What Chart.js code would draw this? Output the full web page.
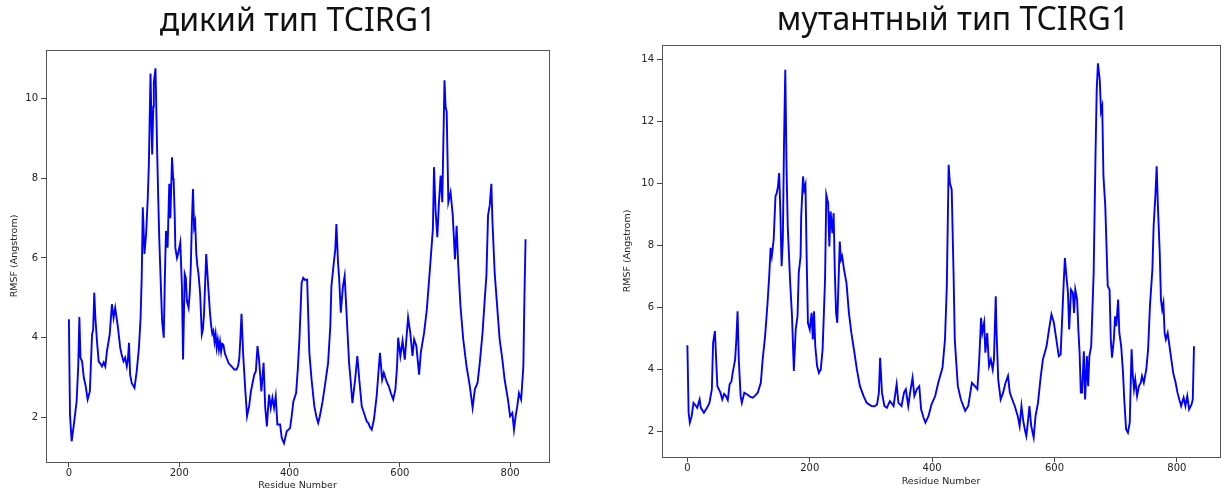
<!DOCTYPE html>
<html><head><meta charset="utf-8">
<script src="https://cdn.jsdelivr.net/npm/chart.js@4/dist/chart.umd.min.js"></script>
<style>
html,body{margin:0;padding:0;background:#fff;overflow:hidden;width:1224px;height:491px}
canvas{position:absolute;top:0}
#wt{left:0}
#mut{left:612px}
</style></head><body>
<canvas id="wt" width="596" height="491"></canvas>
<canvas id="mut" width="682" height="491"></canvas>
<script>
// ---- data ----
const wtTitle = 'дикий тип TCIRG1';
const mutTitle = 'мутантный тип TCIRG1';
const xAxisLabel = 'Residue Number';
const yAxisLabel = 'RMSF (Angstrom)';
const xTickValues = [0, 200, 400, 600, 800];
const wtYTickValues = [2, 4, 6, 8, 10];
const mutYTickValues = [2, 4, 6, 8, 10, 12, 14];

const wtResidue = [0,2,5,9,14,17,19,21,24,27,30,34,38,42,44,46,48,51,54,57,60,63,66,69,74,78,81,84,89,93,96,99,102,105,107,109,111,114,119,123,127,130,132,134,135,137,140,143,145,148,150,151,153,154,157,160,162,164,167,169,172,174,176,179,180,182,184,187,189,190,192,193,196,198,202,205,207,210,212,214,217,219,221,223,225,227,229,231,233,235,238,241,243,245,249,252,254,256,258,260,262,264,266,268,270,272,274,276,278,280,283,286,290,295,300,304,307,309,311,313,316,320,323,327,330,336,339,342,345,349,353,356,359,361,363,366,369,372,375,378,383,386,390,395,401,404,407,412,415,418,422,425,428,432,436,440,445,449,452,455,460,464,470,474,476,481,483,485,488,490,493,497,500,504,508,511,514,519,523,527,531,537,540,543,546,549,553,558,564,568,571,576,580,584,588,592,595,597,601,605,609,615,619,623,626,630,635,638,644,649,655,660,662,665,668,671,674,677,681,683,685,688,692,696,700,703,706,710,715,721,727,732,736,741,745,750,754,757,760,763,766,768,772,776,781,786,790,796,800,804,807,810,813,816,820,824,826,828];
const wtRmsf = [4.46,2.07,1.40,1.82,2.40,3.3,4.52,3.5,3.4,3.0,2.82,2.45,2.65,4.08,4.2,5.13,4.5,3.9,3.4,3.35,3.28,3.38,3.28,3.66,4.08,4.84,4.50,4.75,4.25,3.75,3.55,3.41,3.5,3.28,3.45,3.87,3.07,2.86,2.74,3.16,3.75,4.50,5.5,7.27,6.9,6.1,6.6,7.5,8.36,10.63,9.2,8.6,9.8,10.4,10.76,8.7,7.5,6.43,5.2,4.42,4.0,5.5,6.68,6.26,6.8,7.86,7.0,8.53,8.0,7.94,7.0,6.26,6.0,6.1,6.39,5.26,3.45,5.6,5.5,4.92,4.75,5.1,5.77,6.9,7.73,6.77,6.9,6.10,5.8,5.6,5.09,4.08,4.2,4.59,6.10,5.43,5.0,4.59,4.3,4.1,4.17,3.9,4.1,3.75,3.95,3.7,3.9,3.65,3.85,3.83,3.6,3.49,3.35,3.28,3.2,3.2,3.3,3.49,4.0,4.6,3.58,2.65,2.03,2.3,2.65,3.07,3.16,3.79,3.41,2.65,3.37,2.24,1.77,2.2,2.57,2.24,2.49,2.24,2.53,1.82,1.82,1.48,1.35,1.65,1.73,2.03,2.40,2.61,3.2,3.96,5.38,5.5,5.45,5.46,3.62,2.95,2.28,2.0,1.86,2.03,2.4,2.78,3.37,4.3,5.30,5.97,6.2,6.85,5.88,5.5,4.63,5.3,5.55,4.46,3.37,2.9,2.36,2.95,3.54,2.87,2.28,2.03,1.9,1.86,1.75,1.69,1.94,2.53,3.62,2.95,3.12,2.9,2.78,2.6,2.45,2.7,3.28,4.0,3.54,3.92,3.45,4.51,4.12,3.54,3.96,3.79,3.07,3.62,4.12,4.71,5.80,6.73,8.28,7.15,6.52,7.4,8.07,7.4,10.46,9.8,9.67,7.4,7.65,7.07,5.97,6.81,5.8,4.79,3.96,3.28,2.78,2.24,2.7,2.87,3.37,4.12,4.96,5.55,7.07,7.32,7.86,6.9,5.63,4.88,3.96,3.45,2.95,2.45,2.03,2.11,1.69,2.03,2.28,2.61,2.45,3.28,5.05,6.47];

const mutResidue = [0,2,4,7,10,14,16,20,22,27,32,36,40,42,45,47,49,54,57,60,63,66,69,72,74,78,80,82,84,87,89,93,98,103,107,111,115,120,123,127,131,134,136,138,141,144,146,148,150,152,154,156,158,160,162,164,168,171,174,177,180,182,185,186,189,191,193,195,197,200,203,205,207,209,212,215,218,221,225,227,230,232,234,237,239,241,243,245,249,251,253,256,260,264,268,273,277,282,288,293,301,306,310,313,315,318,322,326,331,337,342,345,350,354,357,361,364,368,371,375,379,382,386,389,394,399,405,410,417,421,424,427,429,432,435,437,442,447,454,459,465,470,474,477,480,482,485,487,490,493,496,499,501,504,505,508,512,516,520,524,527,531,535,540,543,546,549,552,554,557,559,562,566,569,573,577,581,587,591,595,599,603,607,610,612,615,617,619,622,624,627,630,632,634,637,639,641,643,645,648,650,653,655,657,660,664,667,669,671,674,676,678,680,683,685,687,690,692,694,697,699,701,704,706,709,712,714,717,720,723,725,726,728,730,732,735,738,741,743,746,750,753,756,760,762,765,767,769,772,774,776,778,780,782,785,788,791,794,798,801,804,807,811,814,817,820,824,826,828];
const mutRmsf = [4.77,2.59,2.27,2.48,2.91,2.81,2.75,3.02,2.75,2.59,2.75,2.91,3.35,4.85,5.23,4.31,3.45,3.24,3.02,3.2,3.13,3.0,3.51,3.6,3.88,4.31,4.96,5.87,4.31,3.13,2.91,3.24,3.18,3.1,3.08,3.15,3.24,3.56,4.31,5.07,6.14,7.11,7.92,7.65,8.19,9.59,9.69,9.9,10.34,9.05,7.33,8.19,11.42,13.68,10.56,8.62,6.79,5.71,3.94,5.28,5.71,7.11,7.65,8.94,10.23,9.8,9.96,7.54,5.5,5.28,5.82,4.96,5.87,4.74,4.10,3.88,3.99,4.64,6.9,9.64,9.37,7.97,9.1,8.40,9.05,7.11,5.82,5.5,8.13,7.54,7.65,7.22,6.79,5.82,5.17,4.53,3.99,3.45,3.13,2.91,2.81,2.8,2.86,3.24,4.37,3.24,2.81,2.75,2.97,2.81,3.51,2.91,2.81,3.24,3.35,2.81,3.24,3.72,3.13,3.35,3.45,2.70,2.43,2.27,2.48,2.86,3.13,3.56,4.05,4.96,6.68,10.61,10.02,9.8,7.11,4.96,3.45,3.02,2.65,2.81,3.56,3.45,3.35,4.31,5.66,5.17,5.5,4.53,5.17,4.1,4.31,3.99,4.31,6.36,5.39,3.67,3.02,3.24,3.56,3.78,3.24,3.02,2.81,2.48,2.16,2.81,2.32,2.0,1.84,2.38,2.81,2.16,1.79,2.48,2.91,3.67,4.31,4.74,5.28,5.77,5.5,4.96,4.42,4.47,5.39,6.78,7.59,7.11,6.47,5.28,6.57,6.47,5.82,6.57,6.25,5.28,4.53,3.24,3.24,4.58,3.02,4.42,3.45,4.42,4.74,7.11,10.88,13.03,13.89,13.35,12.33,12.5,10.24,9.27,7.98,6.69,6.57,4.96,4.37,4.96,5.71,5.39,6.25,5.17,4.74,3.88,3.02,2.06,1.95,2.27,3.88,4.64,3.78,3.35,3.67,3.13,3.45,3.56,3.78,3.56,3.99,4.64,6.04,7.22,8.62,9.65,10.56,9.27,7.76,6.25,5.93,6.14,5.17,4.96,5.17,4.74,4.31,3.88,3.56,3.24,3.02,2.81,3.08,2.81,3.13,2.70,2.86,3.02,4.74];

// ---- drawing ----
function fixedTicks(values) {
  return function (scale) { scale.ticks = values.map(v => ({ value: v })); };
}

function buildChart(id, titleText, residues, values, yTicks, g) {
  const points = residues.map((r, i) => ({ x: r, y: values[i] }));
  const tickFont = { family: 'DejaVu Sans', size: 10 };
  const labelFont = { family: 'DejaVu Sans', size: 9.5 };
  const frame = { display: true, color: '#555', width: 1 };
  return new Chart(document.getElementById(id), {
    type: 'line',
    data: { datasets: [{
      data: points, borderColor: '#0000ff', borderWidth: 1.9, pointRadius: 0,
      tension: 0, fill: false, xAxisID: 'x', yAxisID: 'y'
    }] },
    options: {
      responsive: false, animation: false, devicePixelRatio: 1,
      layout: { padding: 0 },
      plugins: {
        legend: { display: false },
        tooltip: { enabled: false },
        title: {
          display: true, text: titleText, color: '#111',
          font: { family: 'Noto Sans', size: 32, weight: 'normal', lineHeight: 1 },
          padding: { top: g.titleTop, bottom: g.titleBottom }
        }
      },
      scales: {
        x: {
          type: 'linear', position: 'bottom', min: g.xMin, max: g.xMax,
          afterBuildTicks: fixedTicks(xTickValues),
          afterFit: s => { s.height = g.xH; },
          grid: { drawOnChartArea: false, drawTicks: true, tickLength: 5, color: '#444' },
          border: frame,
          ticks: { padding: 0, color: '#222', font: tickFont, maxRotation: 0 },
          title: { display: true, text: xAxisLabel, color: '#222', font: labelFont,
                   padding: { top: 0, bottom: g.xTitleBottom } }
        },
        y: {
          type: 'linear', position: 'left', min: g.yMin, max: g.yMax,
          afterBuildTicks: fixedTicks(yTicks),
          afterFit: s => { s.width = g.yW; },
          grid: { drawOnChartArea: false, drawTicks: true, tickLength: 5, color: '#444' },
          border: frame,
          ticks: { padding: 3, color: '#222', font: tickFont },
          title: { display: true, text: yAxisLabel, color: '#222', font: labelFont,
                   padding: { top: g.yTitleTop, bottom: 0 } }
        },
        x2: {
          type: 'linear', position: 'top', min: g.xMin, max: g.xMax, display: true,
          ticks: { display: false }, grid: { display: false, drawTicks: false },
          border: frame, afterFit: s => { s.height = 0; }
        },
        y2: {
          type: 'linear', position: 'right', min: g.yMin, max: g.yMax, display: true,
          ticks: { display: false }, grid: { display: false, drawTicks: false },
          border: frame, afterFit: s => { s.width = g.y2W; }
        }
      }
    }
  });
}

buildChart('wt', wtTitle, wtResidue, wtRmsf, wtYTickValues, {
  y2W: 47, titleTop: 6, titleBottom: 12, xMin: -41.5, xMax: 870.5,
  yMin: 0.88, yMax: 11.22, xH: 29, yW: 46, xTitleBottom: 0, yTitleTop: 9
});
buildChart('mut', mutTitle, mutResidue, mutRmsf, mutYTickValues, {
  y2W: 74, titleTop: 5, titleBottom: 8, xMin: -41.5, xMax: 870.5,
  yMin: 1.16, yMax: 14.48, xH: 34, yW: 50, xTitleBottom: 4, yTitleTop: 10
});
</script>
</body></html>
